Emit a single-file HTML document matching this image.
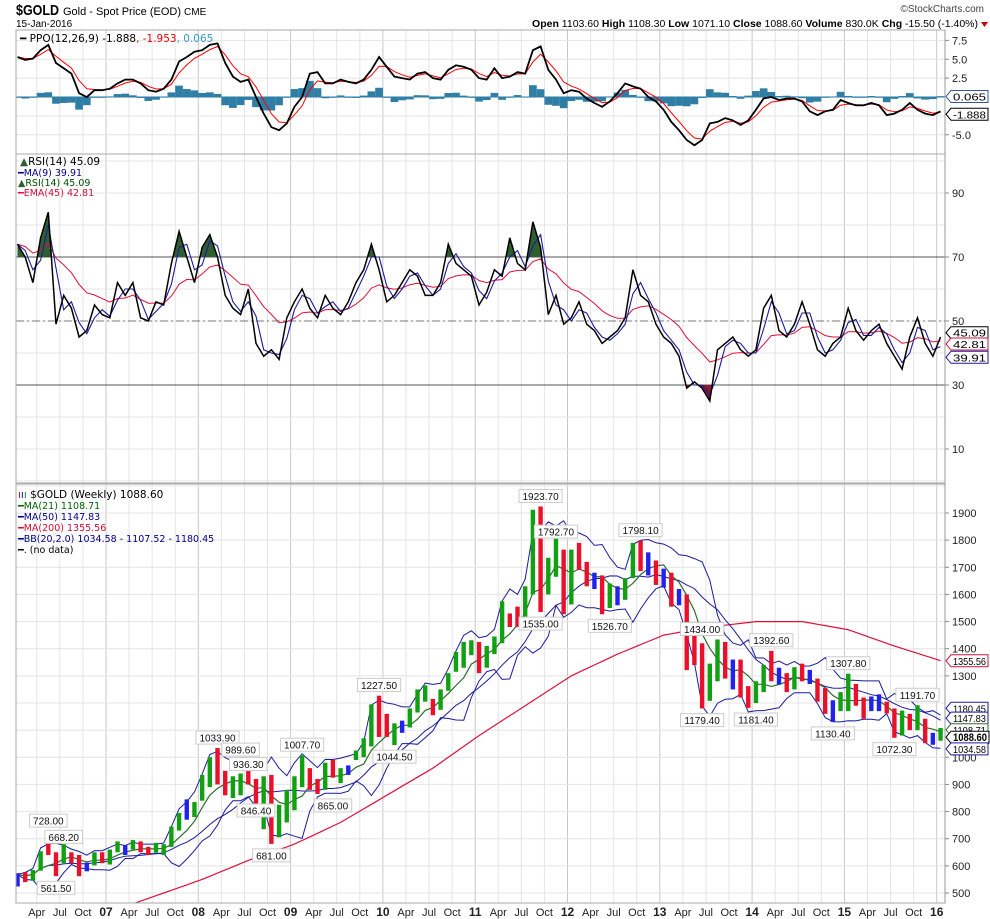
<!DOCTYPE html>
<html><head><meta charset="utf-8"><style>
html,body{margin:0;padding:0;background:#fff;}
svg{display:block;font-family:"Liberation Sans",Arial,sans-serif;}
</style></head><body>
<svg id="chart" width="990" height="919" viewBox="0 0 990 919">
<defs>
<clipPath id="cpPpo"><rect x="16" y="30" width="929" height="124"/></clipPath>
<clipPath id="cpRsi"><rect x="16" y="154" width="929" height="329"/></clipPath>
<clipPath id="cpPrice"><rect x="16" y="484" width="929" height="419"/></clipPath>
<clipPath id="cpAbove70"><rect x="16" y="154" width="929" height="103"/></clipPath>
<clipPath id="cpBelow30"><rect x="16" y="385" width="929" height="98"/></clipPath>
</defs>
<g>
<text x="16" y="15" font-size="15" font-weight="bold" textLength="43" lengthAdjust="spacingAndGlyphs">$GOLD</text>
<text x="63" y="15" font-size="11">Gold - Spot Price (EOD) <tspan font-size="10">CME</tspan></text>
<text x="16" y="27" font-size="10">15-Jan-2016</text>
<text x="984" y="12" font-size="10" fill="#444" text-anchor="end">©StockCharts.com</text>
<text x="978" y="27" font-size="10.5" text-anchor="end"><tspan font-weight="bold">Open</tspan> 1103.60 <tspan font-weight="bold">High</tspan> 1108.30 <tspan font-weight="bold">Low</tspan> 1071.10 <tspan font-weight="bold">Close</tspan> 1088.60 <tspan font-weight="bold">Volume</tspan> 830.0K <tspan font-weight="bold">Chg</tspan> -15.50 (-1.40%)</text>
<path d="M981 22 L988 22 L984.5 27 Z" fill="#c00"/>
</g>
<g id="grid"></g>
<g id="ppoG" clip-path="url(#cpPpo)"></g>
<g id="rsiG" clip-path="url(#cpRsi)"></g>
<g id="priceG" clip-path="url(#cpPrice)"></g>
<g id="frames"></g>
<g id="axes"></g>
<g id="ann"></g>
<g id="legends" font-family="'DejaVu Sans',sans-serif">
<text x="20" y="42" font-size="10.5"><tspan font-weight="bold">━</tspan> PPO(12,26,9) -1.888<tspan fill="#e00">, -1.953</tspan><tspan fill="#3399cc">, 0.065</tspan></text>
<text x="20" y="165" font-size="10.5"><tspan fill="#2f5f2f">▲</tspan>RSI(14) 45.09</text>
<text x="18" y="176" font-size="9.5" fill="#00008b">━MA(9) 39.91</text>
<text x="18" y="186" font-size="9.5" fill="#005000"><tspan fill="#2f5f2f">▲</tspan>RSI(14) 45.09</text>
<text x="18" y="196" font-size="9.5" fill="#d0103a">━EMA(45) 42.81</text>
<text x="18" y="498" font-size="10.5"><tspan fill="#d00">ı</tspan><tspan fill="#00c">ı</tspan><tspan fill="#090">ı</tspan> $GOLD (Weekly) 1088.60</text>
<text x="18" y="509" font-size="9.5" fill="#006400">━MA(21) 1108.71</text>
<text x="18" y="520" font-size="9.5" fill="#00008b">━MA(50) 1147.83</text>
<text x="18" y="531" font-size="9.5" fill="#d0103a">━MA(200) 1355.56</text>
<text x="18" y="542" font-size="9.5" fill="#00008b">━BB(20,2.0) 1034.58 - 1107.52 - 1180.45</text>
<text x="18" y="553" font-size="9.5" fill="#000">━. (no data)</text>
</g>
</svg>
<script>
// ---- data (monthly, Jan 2006 .. Jan 2016) ----
const closes = [569,556,582,654,643,614,633,623,599,604,646,632,
650,665,662,677,659,650,665,673,743,789,783,834,
923,972,917,865,886,930,914,833,880,730,815,870,
928,942,916,884,979,927,954,955,1001,1040,1180,1096,
1081,1118,1115,1180,1207,1244,1169,1246,1307,1357,1386,1421,
1332,1409,1439,1556,1536,1500,1628,1813,1620,1722,1746,1566,
1740,1697,1662,1664,1559,1604,1622,1648,1772,1720,1713,1675,
1663,1578,1596,1472,1393,1234,1313,1395,1327,1323,1253,1202,
1240,1326,1284,1291,1250,1327,1282,1286,1216,1172,1182,1199,
1278,1212,1183,1182,1190,1172,1095,1134,1115,1142,1065,1061,
1088.6];
const highs = [573,577,585,654,728,650,680,650,640,612,650,650,
660,690,675,695,690,670,685,680,745,795,845,835,
935,1000,1034,950,930,940,990,920,930,935,825,880,
930,1007,960,920,980,990,960,970,1025,1070,1195,1227,
1160,1125,1135,1180,1250,1265,1215,1250,1310,1388,1425,1431,
1425,1410,1445,1575,1530,1555,1630,1912,1924,1735,1805,1765,
1765,1790,1720,1680,1670,1640,1630,1660,1790,1798,1755,1725,
1695,1680,1620,1600,1490,1420,1345,1434,1425,1360,1360,1262,
1280,1340,1392,1330,1310,1332,1345,1322,1290,1255,1210,1240,
1308,1270,1220,1224,1232,1205,1180,1172,1160,1192,1142,1090,
1108];
const lows = [524,540,545,582,640,562,610,610,562,580,602,610,
605,650,640,660,650,640,648,640,670,730,770,780,
840,890,900,860,850,860,900,790,735,681,705,760,
805,890,880,865,880,925,905,935,990,1000,1040,1075,
1075,1045,1090,1110,1165,1205,1155,1175,1245,1315,1330,1376,
1310,1330,1380,1420,1480,1480,1480,1600,1535,1600,1665,1527,
1563,1690,1630,1620,1527,1550,1560,1580,1660,1686,1670,1635,
1625,1555,1560,1321,1340,1180,1208,1280,1290,1250,1220,1182,
1200,1240,1280,1268,1240,1250,1280,1270,1205,1160,1130,1170,
1170,1190,1142,1170,1170,1162,1072,1080,1100,1100,1052,1046,
1061];
const ma200Idx = [12,18,24,30,36,42,48,54,60,66,72,78,84,90,96,102,108,114,120];
const ma200Vals = [430,490,550,620,680,760,860,960,1080,1190,1300,1380,1450,1480,1500,1500,1470,1410,1356];
const rsiVals = [74,70,62,76,84,49,58,54,45,47,55,52,51,62,58,62,51,50,56,55,68,78,70,62,73,77,70,58,54,52,60,43,39,41,38,51,56,60,54,51,58,54,52,56,62,66,74,66,56,58,62,66,64,58,58,62,74,68,66,64,55,59,
66,64,76,68,66,81,73,52,58,49,51,56,49,47,43,45,47,51,66,58,56,49,45,43,39,29,31,29,25,41,43,45,41,39,41,54,58,47,45,49,56,49,41,39,43,45,54,47,44,47,49,43,39,35,45,51,43,39,45];
const ppoVals = [5.3,4.9,5.1,6.2,6.9,4.5,3.8,3.1,0.5,0.0,0.9,0.9,1.1,1.8,2.3,2.3,1.8,0.9,0.7,1.1,2.3,4.7,5.3,6.0,6.2,6.9,7.1,4.5,2.7,2.0,2.3,0.0,-2.2,-4.0,-4.4,-3.5,-1.3,0.0,3.1,3.3,1.8,1.8,2.3,2.0,1.8,2.3,3.6,5.3,4.0,2.7,2.5,2.3,3.1,3.3,2.5,2.3,3.6,4.2,4.0,3.6,2.5,2.3,
3.8,2.5,2.7,3.3,3.1,6.2,6.7,3.6,2.3,0.5,0.9,0.7,-0.2,-0.8,-1.3,-0.6,0.5,1.8,1.4,1.1,0.0,-0.6,-1.7,-3.3,-4.4,-5.7,-6.4,-5.7,-3.5,-3.3,-2.8,-3.1,-3.7,-3.1,-1.7,-0.2,0.0,-0.4,-0.2,-0.2,-0.6,-1.9,-2.4,-1.9,-1.7,-0.4,-0.8,-1.1,-1.1,-0.8,-1.1,-2.4,-2.2,-1.7,-0.8,-1.7,-2.2,-2.4,-1.9];
const priceTicks = [500,600,700,800,900,1000,1100,1200,1300,1400,1500,1600,1700,1800,1900];
const rsiTicks = [10,30,50,70,90];
const ppoTicks = [7.5,5.0,2.5,-5.0];
const annValues = ["728.00","668.20","561.50","1033.90","989.60","936.30","846.40","1007.70","865.00","681.00","1227.50","1044.50","1923.70","1792.70","1535.00","1798.10","1526.70","1434.00","1392.60","1179.40","1181.40","1307.80","1130.40","1191.70","1072.30"];
const annMonths = [4,6,5,26,29,30,31,37,41,33,47,49,68,70,68,81,77,89,98,89,96,108,106,117,114];
const annAbove = [1,1,0,1,1,1,0,1,0,0,1,0,1,1,0,1,0,1,1,0,0,1,0,1,0];

// ---- scales ----
const X0 = 13.7, PX_YEAR = 92.3;
function xMonth(i){ return X0 + (i+0.5)*PX_YEAR/12; }
function xQuarter(q){ return X0 + q*PX_YEAR/4; }
function yPrice(p){ return 893 - (p-500)*0.27143; }
function yRsi(v){ return 481 - v*3.2; }
function yPpo(v){ return 97 - v*7.55; }

const NS = "http://www.w3.org/2000/svg";
function mk(tag, attrs, parent){
  const e = document.createElementNS(NS, tag);
  for (const k in attrs) e.setAttribute(k, attrs[k]);
  parent.appendChild(e);
  return e;
}
function sma(a, n){ return a.map((v,i)=>{const s=a.slice(Math.max(0,i-n+1),i+1);return s.reduce((p,c)=>p+c,0)/s.length;}); }
function ema(a, al){ const r=[]; a.forEach((v,i)=>r.push(i?r[i-1]+al*(v-r[i-1]):v)); return r; }
function pathOf(vals, yf, start){ start=start||0; let d=""; for(let i=start;i<vals.length;i++){ if(vals[i]==null) continue; d+=(d?"L":"M")+xMonth(i).toFixed(1)+" "+yf(vals[i]).toFixed(1);} return d; }

const grid = document.getElementById("grid");
const frames = document.getElementById("frames");
const axes = document.getElementById("axes");
const N = closes.length;

for (let q=1;q<=40;q++){
  const x = xQuarter(q);
  const isYear = q%4===0;
  [[30,154],[154,483],[484,903]].forEach(r=>{
    const ln = mk("line",{x1:x,x2:x,y1:r[0],y2:r[1],stroke:isYear?"#c8c8c8":"#e4e4e4","stroke-width":1},grid);
    
    
  });
  const months=["Apr","Jul","Oct"];
  const lab = isYear ? String(2006+q/4).slice(2) : months[(q%4)-1];
  const t = mk("text",{x:x,y:916,"font-size":isYear?12:11,"font-weight":isYear?"bold":"normal","text-anchor":"middle",fill:"#222"},axes);
  t.textContent = lab;
  
  
}
for (let v=-7.5; v<=10; v+=2.5){ const y=yPpo(v); if(y<31||y>153) continue;
  const ln=mk("line",{x1:16,x2:945,y1:y,y2:y,stroke:"#e4e4e4"},grid);
  
  
}
for (let v=0; v<=100; v+=10){ const y=yRsi(v); if(y<155||y>482) continue;
  const ln=mk("line",{x1:16,x2:945,y1:y,y2:y,stroke:"#e4e4e4"},grid);
  
  
}
for (let v=500; v<=2000; v+=100){ const y=yPrice(v); if(y<485||y>902) continue;
  const ln=mk("line",{x1:16,x2:945,y1:y,y2:y,stroke:"#e4e4e4"},grid);
  
  
}
[[70,"#555",""],[30,"#555",""],[50,"#777","8,3,2,3"]].forEach(r=>{
  const ln=mk("line",{x1:16,x2:945,y1:yRsi(r[0]),y2:yRsi(r[0]),stroke:r[1],"stroke-dasharray":r[2]},grid);
  
  
});

[[30,154],[154,483],[484,903]].forEach(r=>{
  const rc=mk("rect",{x:16,y:r[0],width:929,height:r[1]-r[0],fill:"none",stroke:"#aaa"},frames);
  
  
});

// ---- PPO panel ----
const ppoG = document.getElementById("ppoG");
const signal = ema(ppoVals, 0.5);
ppoVals.forEach((v,i)=>{
  const h = v - signal[i];
  const y1 = yPpo(Math.max(h,0)), y2 = yPpo(Math.min(h,0));
  const b = mk("rect",{x:xMonth(i)-3.85,y:y1,width:7.7,height:Math.max(0.8,y2-y1),fill:"#2e7ea6"},ppoG);
  
  
});
const ppoZero = mk("line",{x1:16,x2:945,y1:yPpo(0),y2:yPpo(0),stroke:"#2e7ea6"},ppoG);


const sigLine = mk("path",{d:pathOf(signal,yPpo),fill:"none",stroke:"#f00","stroke-width":1},ppoG);


const ppoLine = mk("path",{d:pathOf(ppoVals,yPpo),fill:"none",stroke:"#000","stroke-width":1.8},ppoG);



// ---- RSI panel ----
const rsiG = document.getElementById("rsiG");
const rsiPath = pathOf(rsiVals,yRsi);
const lastX = xMonth(N-1).toFixed(1), firstX = xMonth(0).toFixed(1);
const ob = mk("path",{d:rsiPath+"L"+lastX+" "+yRsi(70)+"L"+firstX+" "+yRsi(70)+"Z",fill:"#2f5f2f","clip-path":"url(#cpAbove70)"},rsiG);


const os = mk("path",{d:rsiPath+"L"+lastX+" "+yRsi(30)+"L"+firstX+" "+yRsi(30)+"Z",fill:"#8b1a2b","clip-path":"url(#cpBelow30)"},rsiG);


const rsiEma = mk("path",{d:pathOf(ema(rsiVals,2/11),yRsi),fill:"none",stroke:"#e0103a","stroke-width":1},rsiG);


const rsiMa = mk("path",{d:pathOf(sma(rsiVals,2),yRsi),fill:"none",stroke:"#1a1aa0","stroke-width":1.1},rsiG);


const rsiLine = mk("path",{d:rsiPath,fill:"none",stroke:"#000","stroke-width":1.5},rsiG);



// ---- Price panel ----
const priceG = document.getElementById("priceG");
const mid = sma(closes,5);
const bbU=[], bbL=[];
closes.forEach((c,i)=>{ const s=closes.slice(Math.max(0,i-4),i+1); const m=mid[i];
  const sd=Math.sqrt(s.reduce((p,v)=>p+(v-m)*(v-m),0)/s.length); bbU.push(m+2*sd); bbL.push(m-2*sd); });
const ma200 = new Array(N).fill(null);
for (let k=0;k<ma200Idx.length-1;k++){
  for (let i=ma200Idx[k]; i<=ma200Idx[k+1]; i++){
    const t=(i-ma200Idx[k])/(ma200Idx[k+1]-ma200Idx[k]);
    ma200[i]=ma200Vals[k]+(ma200Vals[k+1]-ma200Vals[k])*t;
  }
}
const m200 = mk("path",{d:pathOf(ma200,yPrice,12),fill:"none",stroke:"#e0103a","stroke-width":1.2},priceG);


const bu = mk("path",{d:pathOf(bbU,yPrice),fill:"none",stroke:"#1a1aa0","stroke-width":1},priceG);


const bl = mk("path",{d:pathOf(bbL,yPrice),fill:"none",stroke:"#1a1aa0","stroke-width":1},priceG);


const m50 = mk("path",{d:pathOf(sma(closes,12),yPrice),fill:"none",stroke:"#1a1aa0","stroke-width":1},priceG);


const m21 = mk("path",{d:pathOf(mid,yPrice),fill:"none",stroke:"#2e6b2e","stroke-width":1.2},priceG);


closes.forEach((c,i)=>{
  const o = i>0 ? closes[i-1] : c;
  let col = c>=o ? "#11a011" : "#e8102a";
  if (Math.abs(c-o)/o < 0.012) col = "#2222ee";
  const x = xMonth(i);
  const g = mk("g",{},priceG);
  
  
  const r = mk("rect",{x:x-2.2,y:yPrice(highs[i]),width:4.4,height:Math.max(1,yPrice(lows[i])-yPrice(highs[i])),fill:col},g);
  
  
});

// ---- axes labels ----
function axisLabel(txt,y,name){
  const tk = mk("line",{x1:945,x2:949,y1:y,y2:y,stroke:"#888"},axes);
  
  
  const t = mk("text",{x:952,y:y+4,"font-size":11,fill:"#222"},axes);
  t.textContent = txt;
  
  
}
ppoTicks.forEach(v=>axisLabel(v.toFixed(1),yPpo(v),'ppo-axis-label'));
rsiTicks.forEach(v=>axisLabel(String(v),yRsi(v),'rsi-axis-label'));
priceTicks.forEach(v=>{ if(v===1100||v===1200) return; axisLabel(String(v),yPrice(v),'price-axis-label'); });
const axLine = mk("line",{x1:945,x2:945,y1:30,y2:903,stroke:"#999"},axes);



function tag(txt,y,col,bold,name){
  const g = mk("g",{},axes);
  
  
  const w = bold?38:37;
  const p = mk("path",{d:`M946 ${y} L951 ${y-6} L${951+w} ${y-6} L${951+w} ${y+6} L951 ${y+6} Z`,fill:"#fff",stroke:col},g);
  
  
  const t = mk("text",{x:953,y:y+4,"font-size":bold?11:10.5,"font-weight":bold?"bold":"normal",fill:"#000",textLength:w-4,lengthAdjust:"spacingAndGlyphs"},g);
  t.textContent = txt;
  
  
}
tag("0.065",yPpo(0.065),"#3355aa",false,'ppo-histogram-tag');
tag("-1.888",yPpo(-1.888)+3,"#000",false,'ppo-value-tag');
tag("45.09",yRsi(45.09)-4,"#000",false,'rsi-value-tag');
tag("42.81",yRsi(42.81),"#d0103a",false,'rsi-ema-tag');
tag("39.91",yRsi(39.91)+4,"#1a1aa0",false,'rsi-ma-tag');
tag("1355.56",yPrice(1355.56),"#d0103a",false,'ma200-tag');
tag("1180.45",yPrice(1180.45),"#1a1aa0",false,'bb-upper-tag');
tag("1147.83",yPrice(1147.83)+1,"#1a1aa0",false,'ma50-tag');
tag("1108.71",yPrice(1108.71)+2,"#2e6b2e",false,'ma21-tag');
tag("1088.60",yPrice(1088.60)+4,"#000",true,'close-price-tag');
tag("1034.58",yPrice(1034.58)+1,"#1a1aa0",false,'bb-lower-tag');

// ---- annotations ----
const ann = document.getElementById("ann");
annValues.forEach((txt,i)=>{
  const m = annMonths[i];
  const v = parseFloat(txt);
  const x = xMonth(m);
  const y = annAbove[i] ? yPrice(v)-10 : yPrice(v)+12;
  const g = mk("g",{},ann);
  
  
  const w = txt.length*5.6+4;
  const r = mk("rect",{x:x-w/2,y:y-7,width:w,height:13,fill:"#fff",stroke:"#ccc"},g);
  
  
  const t = mk("text",{x:x,y:y+3.5,"font-size":10,"text-anchor":"middle",fill:"#111"},g);
  t.textContent = txt;
  
  
});
</script>
</body></html>
